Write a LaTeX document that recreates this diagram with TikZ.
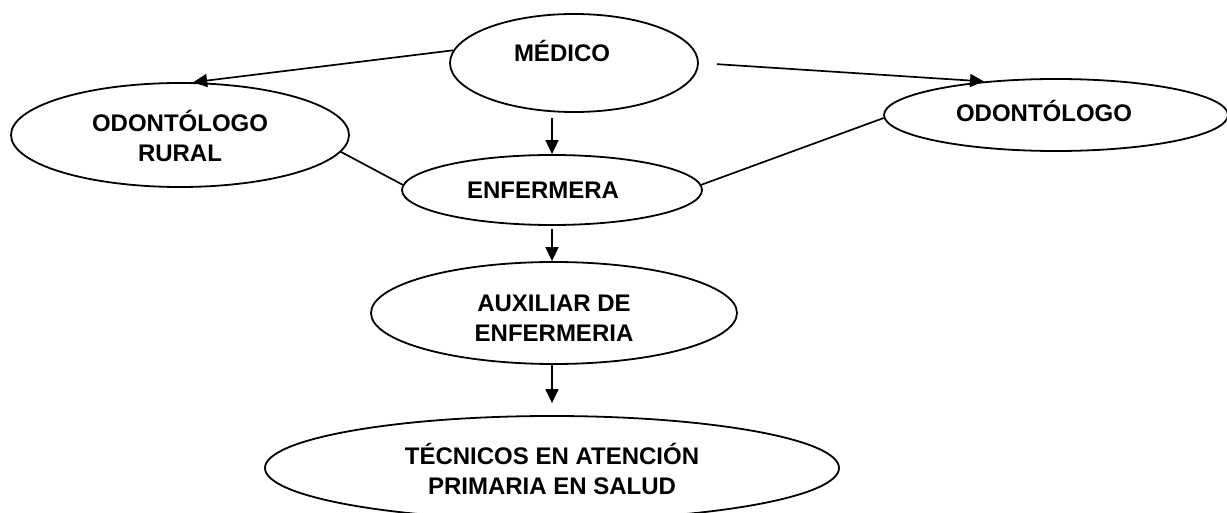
\documentclass[tikz,border=0pt]{standalone}
\usepackage{fontspec}
\setmainfont{Liberation Sans}
\usetikzlibrary{shapes.geometric,arrows.meta}

\tikzset{
	oval/.style={shape=ellipse,draw=black,line width=1.8pt,inner sep=0pt},
	txt/.style={font=\bfseries\fontsize{24}{30}\selectfont,align=center,inner sep=0pt,text height=17pt,text depth=0pt},
	twolines/.style={text height=47pt},
	link/.style={line width=1.7pt},
	arr/.style={link,-{Triangle[length=14pt,width=13pt]}}
}

\begin{document}
\begin{tikzpicture}[x=1pt,y=-1pt]
	\useasboundingbox (0,0) rectangle (1227,513);
	
	\node[oval,minimum width=248pt,minimum height=98pt] (medico) at (574,63) {};
	\node[oval,minimum width=338pt,minimum height=104pt] (rural) at (180,135) {};
	\node[oval,minimum width=344pt,minimum height=72pt] (odonto) at (1056,115) {};
	\node[oval,minimum width=300pt,minimum height=70pt] (enf) at (552,190) {};
	\node[oval,minimum width=366pt,minimum height=102pt] (aux) at (554,313) {};
	\node[oval,minimum width=574pt,minimum height=104pt] (tec) at (552,468) {};
	
	\node[txt] (medicotxt) at (562,53) {MÉDICO};
	\node[txt,twolines] (ruraltxt) at (180,138) {ODONTÓLOGO\\RURAL};
	\node[txt] (odontotxt) at (1044,113) {ODONTÓLOGO};
	\node[txt] (enftxt) at (543,190) {ENFERMERA};
	\node[txt,twolines] (auxtxt) at (554,318) {AUXILIAR DE\\ENFERMERIA};
	\node[txt,twolines] (tectxt) at (552,471) {TÉCNICOS EN ATENCIÓN\\PRIMARIA EN SALUD};
	
	\draw[arr] (medico.174) -- (rural.76);
	\draw[arr,shorten <=18pt] (medico.east) -- (odonto.155);
	\draw[arr] ([yshift=-5pt]medico.south -| enf.north) -- (enf.north);
	\draw[link] (rural.354) -- (enf.178);
	\draw[link] (enf.2) -- (odonto.181);
	\draw[arr] ([yshift=-3pt]enf.south) -- (aux.north -| enf.south);
	\draw[arr,shorten >=12pt] (aux.south -| enf.south) -- (tec.north -| enf.south);
	
\end{tikzpicture}
\end{document}
